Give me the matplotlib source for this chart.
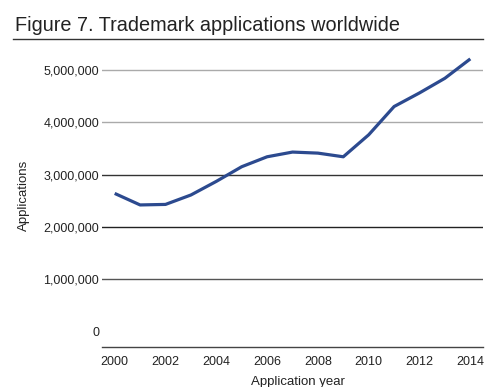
import matplotlib
matplotlib.use('Agg')
import matplotlib.pyplot as plt
from matplotlib.ticker import FuncFormatter

# Trademark applications per year
anos = [2000, 2001, 2002, 2003, 2004, 2005, 2006, 2007,
        2008, 2009, 2010, 2011, 2012, 2013, 2014]
pedidos = [2640000, 2420000, 2430000, 2610000, 2870000, 3150000, 3340000, 3430000,
           3410000, 3340000, 3760000, 4300000, 4560000, 4840000, 5210000]

y_ticks = [0, 1000000, 2000000, 3000000, 4000000, 5000000]
x_ticks = [2000, 2002, 2004, 2006, 2008, 2010, 2012, 2014]

fonte = ['Liberation Sans Narrow', 'Liberation Sans', 'DejaVu Sans']

fig = plt.figure(figsize=(5, 3.87), dpi=100)
ax = fig.add_axes([0.204, 0.104, 0.762, 0.756])

# grid lines (the first ones look lighter in the original)
cores_grid = ['#555555', '#222222', '#333333', '#aaaaaa', '#aaaaaa']
for valor, cor in zip(y_ticks[1:], cores_grid):
    ax.axhline(valor, color=cor, linewidth=1.0, zorder=1)

ax.plot(anos, pedidos, color='#2c4a8f', linewidth=2.3, zorder=3, solid_capstyle='butt')

ax.set_xlim(1999.5, 2014.5)
ax.set_ylim(-289000, 5300000)
ax.set_xticks(x_ticks)
ax.set_yticks(y_ticks)
ax.yaxis.set_major_formatter(FuncFormatter(lambda v, p: f'{int(v):,}'))
ax.tick_params(length=0, labelsize=9, colors='#222222')
ax.tick_params(axis='y', pad=2)
ax.tick_params(axis='x', pad=7)
for lab in ax.get_xticklabels() + ax.get_yticklabels():
    lab.set_family(fonte)

for lado in ['top', 'right', 'left']:
    ax.spines[lado].set_visible(False)
ax.spines['bottom'].set_color('#444444')
ax.spines['bottom'].set_linewidth(1.0)

ax.set_ylabel('Applications', family=fonte, fontsize=9.5, color='#222222')
ax.yaxis.set_label_coords(-0.19, 0.517)
ax.set_xlabel('Application year', family=fonte, fontsize=9.5, color='#222222')
ax.xaxis.set_label_coords(0.515, -0.1)
ax.xaxis.label.set_va('top')

# titulo com linha embaixo
fig.text(0.03, 0.92, 'Figure 7. Trademark applications worldwide', family=['Liberation Sans', 'DejaVu Sans'],
         fontsize=14.3, color='#222222', va='baseline', ha='left')
fig.add_artist(plt.Line2D([0.026, 0.966], [0.899, 0.899], color='#333333', linewidth=1.0))

plt.savefig('out.png', dpi=100)
plt.close()
